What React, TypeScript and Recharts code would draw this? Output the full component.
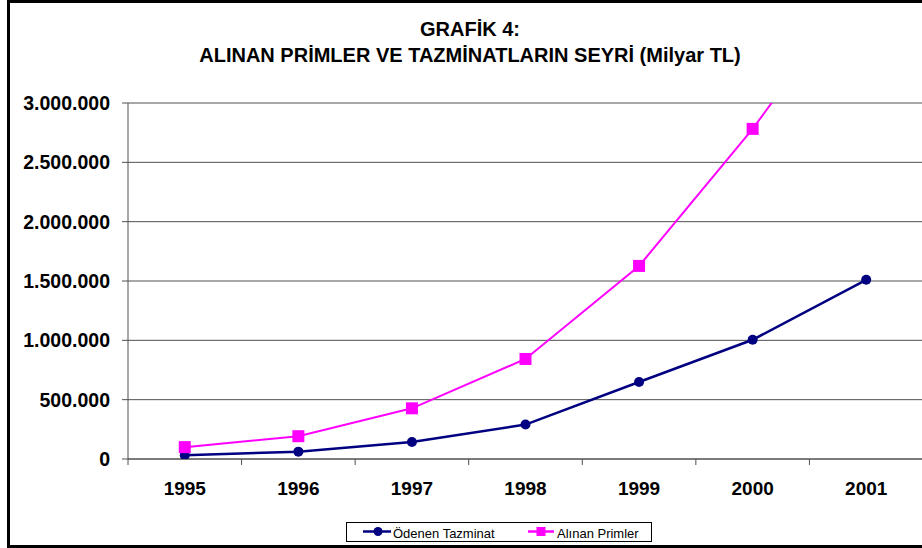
import React from "react";
import { LineChart, Line, XAxis, YAxis, CartesianGrid } from "recharts";

const years = [1995, 1996, 1997, 1998, 1999, 2000, 2001];
const odenenTazminat = [32000, 62000, 143000, 290000, 649000, 1005000, 1510000];
const alinanPrimler = [100000, 192000, 427000, 843000, 1627000, 2782000, 4090000];
const yTicks = [0, 500000, 1000000, 1500000, 2000000, 2500000, 3000000];
const bandEdges = [1994.5, 1995.5, 1996.5, 1997.5, 1998.5, 1999.5, 2000.5, 2001.5];
const titleLines = ["GRAFİK 4:", "ALINAN PRİMLER VE TAZMİNATLARIN SEYRİ (Milyar TL)"];
const seriesNames = ["Ödenen Tazminat", "Alınan Primler"];

const data = years.map((y, i) => ({
  year: y,
  tazminat: odenenTazminat[i],
  primler: alinanPrimler[i],
}));

const FONT = "'Liberation Sans', Arial, Helvetica, sans-serif";
const NAVY = "#000080";
const MAGENTA = "#FF00FF";
const GRID = "#505050";

const fmt = (v: number) => String(v).replace(/\B(?=(\d{3})+(?!\d))/g, ".");

const SquareDot = (props: any) => {
  const { cx, cy } = props;
  if (cx == null || cy == null) return null;
  return <rect x={cx - 6} y={cy - 6} width={12} height={12} fill={MAGENTA} />;
};

const EmptyTick = () => <g />;

export default function App() {
  return (
    <div style={{ position: "relative", width: 922, height: 548, overflow: "hidden", background: "#fff" }}>
      <style>{"html,body{margin:0;padding:0;overflow:hidden;background:#fff}"}</style>
      <div
        style={{
          position: "absolute",
          left: 7,
          top: 0,
          width: 940,
          height: 548,
          boxSizing: "border-box",
          borderLeft: "3px solid #000",
          borderTop: "3px solid #000",
          borderBottom: "3px solid #000",
        }}
      />
      <div style={{ position: "absolute", left: 0, top: 0 }}>
        <LineChart
          width={930}
          height={548}
          data={data}
          margin={{ top: 103, right: 7, bottom: 0, left: 0 }}
        >
          <CartesianGrid vertical={false} stroke={GRID} strokeWidth={1} xAxisId="lbl" />
          <XAxis
            xAxisId="edges"
            dataKey="year"
            type="number"
            domain={[1994.5, 2001.5]}
            ticks={bandEdges}
            interval={0}
            tick={<EmptyTick />}
            tickSize={6}
            height={1}
            stroke={GRID}
            axisLine={{ stroke: GRID }}
            tickLine={{ stroke: GRID, strokeWidth: 1 }}
          />
          <XAxis
            xAxisId="lbl"
            dataKey="year"
            type="number"
            domain={[1994.5, 2001.5]}
            ticks={years}
            interval={0}
            height={88}
            axisLine={false}
            tickLine={false}
            tickSize={6}
            tickMargin={16}
            tick={{ fill: "#000", fontSize: 19, fontWeight: "bold", fontFamily: FONT }}
          />
          <YAxis
            domain={[0, 3000000]}
            ticks={yTicks}
            interval={0}
            allowDataOverflow
            width={128}
            tickSize={6}
            tickMargin={12}
            tickFormatter={fmt}
            axisLine={{ stroke: GRID }}
            tickLine={{ stroke: GRID }}
            tick={{ fill: "#000", fontSize: 19.5, fontWeight: "bold", fontFamily: FONT }}
          />
          <Line
            xAxisId="lbl"
            dataKey="tazminat"
            name={seriesNames[0]}
            stroke={NAVY}
            strokeWidth={2.5}
            dot={{ r: 5, fill: NAVY, stroke: NAVY, strokeWidth: 0 }}
            isAnimationActive={false}
          />
          <Line
            xAxisId="lbl"
            dataKey="primler"
            name={seriesNames[1]}
            stroke={MAGENTA}
            strokeWidth={2}
            dot={<SquareDot />}
            isAnimationActive={false}
          />
        </LineChart>
      </div>
      <svg
        width={922}
        height={548}
        style={{ position: "absolute", left: 0, top: 0, pointerEvents: "none" }}
      >
        <text x={470} y={36} textAnchor="middle" fontFamily={FONT} fontWeight="bold" fontSize={20} fill="#000">
          {titleLines[0]}
        </text>
        <text x={470} y={62} textAnchor="middle" fontFamily={FONT} fontWeight="bold" fontSize={20} fill="#000">
          {titleLines[1]}
        </text>
        <rect x={346.5} y={522.5} width={305} height={19} fill="#fff" stroke="#000" strokeWidth={1} />
        <line x1={363} y1={531.5} x2={391} y2={531.5} stroke={NAVY} strokeWidth={2.5} />
        <circle cx={378} cy={531.5} r={4.5} fill={NAVY} />
        <text x={393} y={537.5} fontFamily={FONT} fontSize={13} fill="#000">
          {seriesNames[0]}
        </text>
        <line x1={528} y1={531.5} x2={554} y2={531.5} stroke={MAGENTA} strokeWidth={2.5} />
        <rect x={536.5} y={527} width={9} height={9} fill={MAGENTA} />
        <text x={557} y={537.5} fontFamily={FONT} fontSize={13} fill="#000">
          {seriesNames[1]}
        </text>
      </svg>
    </div>
  );
}
